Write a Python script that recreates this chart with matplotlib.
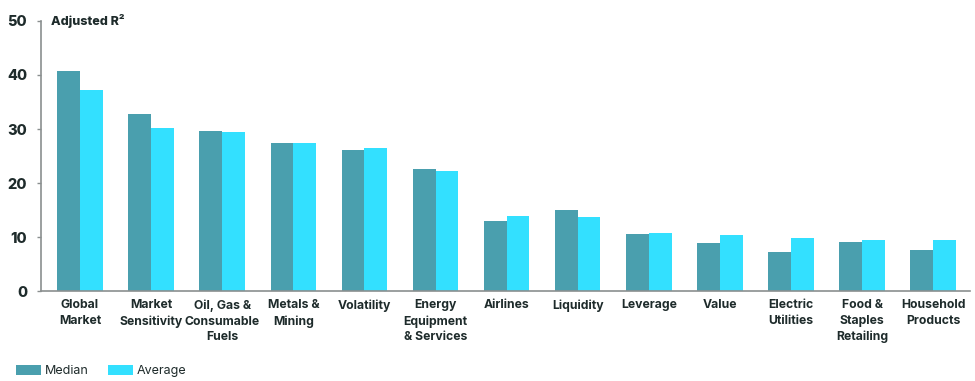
import matplotlib
matplotlib.use("Agg")
import matplotlib.pyplot as plt
import numpy as np

categories = ["Global\nMarket", "Market\nSensitivity", "Oil, Gas &\nConsumable\nFuels",
              "Metals &\nMining", "Volatility", "Energy\nEquipment\n& Services",
              "Airlines", "Liquidity", "Leverage", "Value", "Electric\nUtilities",
              "Food &\nStaples\nRetailing", "Household\nProducts"]
median = [40.7, 32.8, 29.6, 27.4, 26.1, 22.6, 13.0, 15.0, 10.6, 8.9, 7.2, 9.1, 7.6]
average = [37.2, 30.2, 29.4, 27.4, 26.5, 22.2, 13.9, 13.7, 10.7, 10.4, 9.8, 9.5, 9.5]
yticks = [0, 10, 20, 30, 40, 50]

plt.rcParams['font.family'] = ['Inter', 'DejaVu Sans']
text_color = "#1e2b2b"
c_med = "#4a9fae"
c_avg = "#33e0ff"

fig = plt.figure(figsize=(9.75, 3.81), dpi=100)
ax = fig.add_axes([0.042, 0.236, 0.953, 0.709])

x = np.arange(len(categories))
w = 0.32
ax.bar(x - w/2, median, width=w, color=c_med, label="Median")
ax.bar(x + w/2, average, width=w, color=c_avg, label="Average")

ax.set_xlim(-0.55, len(categories) - 1 + 0.52)
ax.set_ylim(0, 50)
ax.set_yticks(yticks)
ax.set_yticklabels([str(t) for t in yticks], fontsize=10.5, fontweight='heavy', color=text_color)
ax.set_xticks(x)
ax.set_xticklabels(categories, fontsize=8.8, fontweight='bold', color=text_color, linespacing=1.4)
ax.tick_params(axis='x', length=0, pad=6)
ax.tick_params(axis='y', length=3, width=1, color="#8a8f8f", pad=7)
for s in ['top', 'right']:
    ax.spines[s].set_visible(False)
for s in ['left', 'bottom']:
    ax.spines[s].set_color("#8a8f8f")
    ax.spines[s].set_linewidth(1.2)

ax.text(0.011, 50, "Adjusted R²", transform=ax.get_yaxis_transform(), fontsize=9,
        fontweight='heavy', color=text_color, va='center', ha='left')

leg = fig.legend(loc='center left', bbox_to_anchor=(0.005, 0.026), ncol=2, frameon=False,
                 fontsize=9, handlelength=2.0, handleheight=0.8, columnspacing=1.5,
                 handletextpad=0.3)
for t in leg.get_texts():
    t.set_color(text_color)

fig.savefig("out.png", dpi=100)
